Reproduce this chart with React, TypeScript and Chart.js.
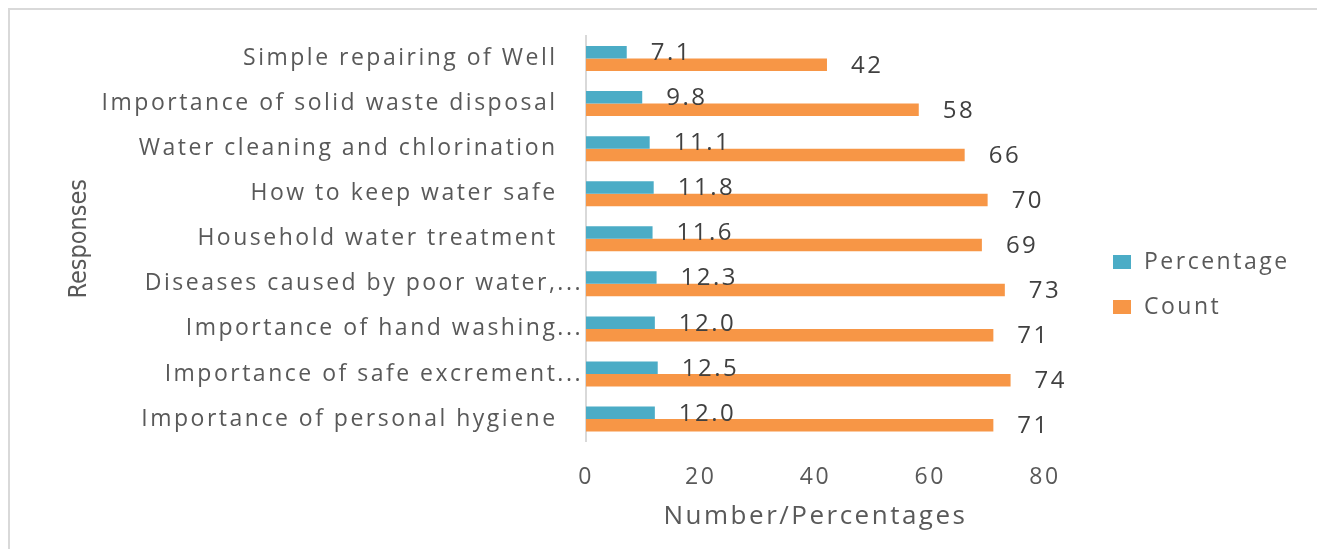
import { useEffect, useRef } from "react";
import { Chart, registerables } from "chart.js";

Chart.register(...registerables);

const categories = [
  "Simple repairing of Well   ",
  "Importance of solid waste disposal   ",
  "Water cleaning and chlorination   ",
  "How to keep water safe   ",
  "Household water treatment   ",
  "Diseases caused by poor water,...",
  "Importance of hand washing...",
  "Importance of safe excrement...",
  "Importance of personal hygiene   ",
];
const percentageValues = [7.1, 9.8, 11.1, 11.8, 11.6, 12.3, 12.0, 12.5, 12.0];
const countValues = [42, 58, 66, 70, 69, 73, 71, 74, 71];
const seriesNames = ["Percentage", "Count"];
const seriesColors = ["#4bacc6", "#f79646"];
const xMin = 0;
const xMax = 80;
const xStep = 20;
const xTitle = "Number/Percentages";
const yTitle = "Responses";

const FONT = "'Open Sans', sans-serif";
const NARROW = "'Liberation Sans Narrow', 'DejaVu Sans Condensed', 'Open Sans', sans-serif";
const TEXT = "#595959";
const SPACING = "2.5px";

const spacingPlugin = {
  id: "spacing",
  beforeUpdate(chart: any) {
    chart.ctx.letterSpacing = SPACING;
  },
  beforeDraw(chart: any) {
    chart.ctx.letterSpacing = SPACING;
    const ys = chart.scales.y;
    if (ys && !ys.__patched) {
      const orig = ys.drawTitle;
      ys.drawTitle = function (...args: any[]) {
        const c = chart.ctx;
        const prev = c.letterSpacing;
        c.letterSpacing = "0px";
        orig.apply(this, args);
        c.letterSpacing = prev;
      };
      ys.__patched = true;
    }
  },
};

const dataLabelPlugin = {
  id: "dataLabels",
  afterDatasetsDraw(chart: any) {
    const ctx = chart.ctx;
    ctx.save();
    ctx.letterSpacing = SPACING;
    ctx.font = `24px ${FONT}`;
    ctx.fillStyle = "#404040";
    ctx.textAlign = "left";
    ctx.textBaseline = "middle";
    chart.data.datasets.forEach((ds: any, di: number) => {
      const meta = chart.getDatasetMeta(di);
      meta.data.forEach((el: any, i: number) => {
        const v = ds.data[i] as number;
        const txt = di === 0 ? v.toFixed(1) : String(v);
        ctx.fillText(txt, el.x + 24, el.y + 1);
      });
    });
    ctx.restore();
  },
};

const legendPlugin = {
  id: "sideLegend",
  afterDraw(chart: any) {
    const ctx = chart.ctx;
    const area = chart.chartArea;
    ctx.save();
    ctx.letterSpacing = SPACING;
    ctx.font = `23px ${FONT}`;
    ctx.textAlign = "left";
    ctx.textBaseline = "middle";
    const mid = chart.height / 2 + 1;
    chart.data.datasets.forEach((ds: any, i: number) => {
      const cy = mid + (i - 0.5) * 45;
      ctx.fillStyle = ds.backgroundColor;
      ctx.fillRect(area.right + 68, cy - 7, 18, 14);
      ctx.fillStyle = TEXT;
      ctx.fillText(ds.label, area.right + 99, cy);
    });
    ctx.restore();
  },
};

export default function App() {
  const ref = useRef<HTMLCanvasElement>(null);
  useEffect(() => {
    document.documentElement.style.overflow = "hidden";
    const canvas = ref.current;
    if (!canvas) return;
    const chart = new Chart(canvas, {
      type: "bar",
      data: {
        labels: categories,
        datasets: [
          {
            label: seriesNames[0],
            data: percentageValues,
            backgroundColor: seriesColors[0],
            barPercentage: 1,
            categoryPercentage: 0.555,
          },
          {
            label: seriesNames[1],
            data: countValues,
            backgroundColor: seriesColors[1],
            barPercentage: 1,
            categoryPercentage: 0.555,
          },
        ],
      },
      options: {
        indexAxis: "y",
        animation: false,
        responsive: false,
        devicePixelRatio: 1,
        layout: { padding: { top: 26, left: 0, right: 273, bottom: 0 } },
        plugins: {
          legend: { display: false },
          tooltip: { enabled: false },
          title: { display: false },
        },
        scales: {
          x: {
            min: xMin,
            max: xMax,
            grid: { display: false, drawTicks: false },
            border: { display: false },
            ticks: {
              stepSize: xStep,
              padding: 22,
              color: TEXT,
              font: { family: FONT, size: 23 },
            },
            title: {
              display: true,
              text: xTitle,
              color: TEXT,
              font: { family: FONT, size: 26 },
              padding: { top: 0, bottom: 24.5 },
            },
            afterFit(scale: any) {
              scale.height = 115.4;
            },
          },
          y: {
            grid: { display: false, drawTicks: false },
            border: { display: true, color: "#d9d9d9", width: 2 },
            ticks: {
              padding: 3,
              color: TEXT,
              font: { family: FONT, size: 23 },
              autoSkip: false,
            },
            title: {
              display: true,
              text: yTitle,
              color: TEXT,
              font: { family: NARROW, size: 25 },
              padding: { top: 54, bottom: 0 },
            },
            afterFit(scale: any) {
              scale.width = 576;
            },
          },
        },
      },
      plugins: [spacingPlugin, dataLabelPlugin, legendPlugin],
    } as any);
    return () => chart.destroy();
  }, []);

  return (
    <div
      style={{
        width: 1308,
        height: 547,
        borderTop: "2px solid #d9d9d9",
        borderLeft: "2px solid #d9d9d9",
        borderRight: "2px solid #d9d9d9",
        marginBottom: -8,
        background: "#ffffff",
      }}
    >
      <canvas ref={ref} width={1308} height={547} style={{ display: "block" }} />
    </div>
  );
}
